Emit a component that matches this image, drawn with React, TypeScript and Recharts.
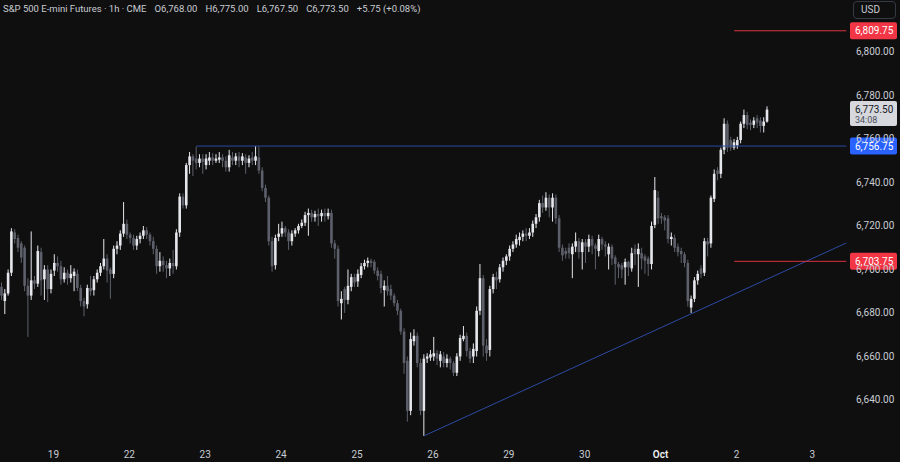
import React from 'react';
import { ComposedChart, Bar, XAxis, YAxis, ReferenceLine } from 'recharts';

// hourly OHLC, Sep 18 evening -> Oct 2
const opens = [
  6692, 6685.5, 6689, 6698.5, 6717, 6714.5, 6712, 6710, 6692.5, 6688,
  6695, 6693.5, 6708, 6695.5, 6700, 6691, 6699.5, 6703, 6701.5, 6695.5,
  6698.5, 6696, 6697, 6698, 6691.5, 6685.5, 6684, 6691.5, 6690.5, 6695.5,
  6698.5, 6701.5, 6705, 6700, 6698, 6709.5, 6711, 6716.5, 6721, 6716,
  6714.5, 6711, 6714, 6715.5, 6718, 6716, 6713, 6709.5, 6701.5, 6704,
  6702, 6700.5, 6703, 6701.5, 6717, 6733.5, 6729.5, 6748, 6752, 6751,
  6749, 6751, 6748, 6750, 6751.5, 6750, 6750.5, 6751.5, 6750, 6747,
  6751.5, 6750, 6752, 6750, 6751.5, 6749, 6751.5, 6750, 6751.5, 6745.5,
  6737.5, 6733, 6713, 6702, 6715, 6716.5, 6719, 6717, 6713, 6716.5,
  6718, 6720, 6721.5, 6725, 6726, 6724, 6725.5, 6724.5, 6726, 6724.5,
  6726, 6712, 6709.5, 6684.5, 6691, 6686, 6692, 6696.5, 6694.5, 6697.5,
  6701.5, 6703, 6704, 6703.5, 6699.5, 6698, 6690.5, 6692.5, 6691, 6688,
  6684.5, 6681, 6671.5, 6658, 6635, 6667, 6669.5, 6657, 6635, 6659,
  6659.5, 6660, 6661.5, 6658, 6660, 6657, 6659, 6657, 6652.5, 6660,
  6668, 6669.5, 6662.5, 6660, 6662.5, 6681, 6696, 6665, 6663, 6691,
  6696.5, 6695.5, 6701, 6704, 6706, 6709.5, 6711.5, 6713.5, 6715, 6716.5,
  6715.5, 6717, 6721, 6724, 6730.5, 6728.5, 6733, 6728.5, 6733, 6723.5,
  6710, 6708.5, 6710, 6707, 6710.5, 6713, 6708, 6712.5, 6710.5, 6714,
  6711, 6708.5, 6714, 6711.5, 6707, 6710.5, 6705.5, 6702.5, 6702, 6701,
  6703.5, 6700.5, 6709.5, 6707, 6707.5, 6706, 6705, 6702.5, 6720.5, 6733,
  6724.5, 6724, 6723.5, 6714, 6714.5, 6710.5, 6708.5, 6707, 6703, 6682.5,
  6686.5, 6695, 6700.5, 6698.5, 6713, 6712, 6732.5, 6745.5, 6744, 6755,
  6767, 6759.5, 6756, 6757, 6759.5, 6767, 6771, 6767.5, 6766.5, 6769.5,
  6768.5, 6766, 6768,
];

const highs = [
  6694, 6691, 6700, 6719, 6718.5, 6716, 6713, 6711, 6696, 6717.5,
  6697, 6711, 6710, 6702, 6702, 6700, 6707, 6706, 6704, 6701,
  6700, 6702, 6700.5, 6700, 6693, 6687, 6693, 6697, 6697, 6700,
  6703, 6714, 6707, 6701, 6711, 6713, 6718, 6731, 6723, 6717,
  6716, 6715.5, 6717, 6720, 6719.5, 6717, 6715, 6711, 6708, 6706,
  6704, 6705, 6709, 6718.5, 6735, 6735, 6749, 6754, 6753, 6756.5,
  6753, 6753, 6753, 6754, 6753.5, 6753, 6754, 6753, 6752, 6755,
  6754, 6753.5, 6754, 6753.5, 6753, 6752.5, 6754, 6756.75, 6756.5, 6747,
  6739, 6734, 6715, 6716, 6721, 6722, 6720, 6718.5, 6718, 6719,
  6721, 6723, 6726.5, 6728, 6727.5, 6727, 6728, 6727.5, 6728, 6728,
  6727.5, 6713.5, 6711, 6690, 6692, 6700, 6698, 6698, 6700, 6703,
  6704.5, 6705.5, 6705, 6704.5, 6701, 6699.5, 6695, 6697, 6693, 6689,
  6686, 6682, 6673, 6660, 6671, 6672.5, 6671, 6659, 6661, 6661.5,
  6663, 6669, 6663, 6662.5, 6662, 6661, 6660, 6658, 6661.5, 6670,
  6674, 6671, 6664, 6666, 6683, 6702.5, 6697.5, 6668, 6692.5, 6698,
  6699, 6702.5, 6705.5, 6707, 6711, 6713, 6716, 6717, 6718, 6719,
  6719, 6722.5, 6725.5, 6732, 6734, 6735.5, 6734.5, 6735, 6734.5, 6725,
  6711.5, 6710, 6712, 6712, 6717, 6714.5, 6714, 6714, 6716, 6715.5,
  6712, 6716, 6715, 6713, 6712, 6711.5, 6706.5, 6703.5, 6703, 6705,
  6704, 6710, 6711.5, 6712, 6710, 6707, 6706, 6722, 6742.5, 6736,
  6726, 6725, 6725, 6717, 6716, 6712, 6710, 6708, 6704.5, 6688,
  6696.5, 6699.5, 6702, 6714.5, 6714.5, 6734, 6746, 6747, 6756, 6769.5,
  6768.5, 6761, 6760, 6761, 6768, 6773.5, 6772.5, 6769, 6770, 6771,
  6770, 6770, 6775,
];

const lows = [
  6686, 6679.5, 6688, 6697, 6712, 6708, 6703, 6690, 6669, 6686,
  6691, 6692, 6688, 6686, 6685, 6689, 6697, 6699, 6693, 6694,
  6693, 6694, 6690, 6690, 6683, 6678.5, 6682, 6688, 6688, 6694,
  6697, 6700, 6694, 6686.5, 6696, 6707, 6709, 6715, 6714, 6712,
  6709, 6709, 6712, 6714, 6714, 6711, 6707, 6698, 6699, 6699,
  6696, 6697, 6698, 6700, 6715, 6728, 6728, 6744, 6743, 6746,
  6747, 6744, 6746, 6748, 6748, 6749, 6749, 6747, 6745, 6745,
  6748, 6748, 6747, 6748, 6744, 6747, 6748, 6748, 6744, 6736,
  6731, 6711, 6699, 6700, 6713, 6715, 6715, 6709, 6711, 6715,
  6716.5, 6719, 6720, 6715.5, 6722, 6722, 6720, 6722, 6722, 6723,
  6710, 6705, 6683, 6677, 6680, 6684, 6690, 6692, 6692, 6696,
  6700, 6701, 6701, 6698, 6695, 6689, 6683, 6688, 6686, 6683,
  6679, 6670, 6652, 6630, 6633, 6665, 6655, 6633, 6623.5, 6657,
  6658, 6658, 6656, 6655, 6655, 6655, 6654, 6651, 6651, 6658,
  6667, 6660, 6657, 6657, 6660, 6679, 6660, 6658, 6660, 6689,
  6691, 6694, 6699, 6702, 6704, 6708, 6710, 6711, 6713, 6713,
  6714, 6715, 6719, 6722, 6726, 6727, 6724, 6722, 6721, 6708,
  6704, 6705, 6705, 6696, 6708, 6705, 6700, 6703, 6708, 6707,
  6700, 6706, 6709, 6706, 6700, 6702, 6693, 6696, 6696, 6693,
  6697, 6699, 6702, 6692, 6700, 6698, 6697, 6700, 6719, 6721,
  6721, 6718, 6712, 6711, 6708, 6706, 6703, 6701, 6683, 6680,
  6685, 6693, 6696, 6697, 6706, 6710, 6731, 6741, 6742, 6753,
  6754, 6754.5, 6755, 6755.5, 6758, 6765, 6764.5, 6764, 6765, 6765,
  6763, 6763, 6767.5,
];

const closes = [
  6688, 6689, 6698.5, 6717.5, 6714, 6710, 6705.5, 6692.5, 6688, 6695,
  6693.5, 6708.5, 6695, 6700, 6691, 6698, 6703, 6701.5, 6695.5, 6698.5,
  6696, 6698, 6699, 6691.5, 6685.5, 6683, 6691.5, 6690, 6695.5, 6698.5,
  6701.5, 6705, 6699.5, 6698, 6709.5, 6711, 6716.5, 6721, 6716, 6714.5,
  6711, 6714, 6715.5, 6718, 6716, 6713, 6709.5, 6701.5, 6704, 6702,
  6700.5, 6703, 6701.5, 6717, 6733.5, 6729.5, 6748, 6752, 6750, 6749,
  6751, 6749.5, 6751, 6751.5, 6750, 6751, 6751.5, 6750, 6747, 6752.5,
  6750, 6752, 6750, 6752, 6749, 6751, 6750, 6752, 6745.5, 6737.5,
  6733, 6713, 6701.5, 6714.5, 6716.5, 6719, 6717, 6713, 6716.5, 6718,
  6720, 6721.5, 6725, 6726, 6724, 6725.5, 6724.5, 6726, 6724.5, 6726,
  6712, 6709.5, 6685.5, 6686.5, 6686, 6692.5, 6696.5, 6694, 6698, 6701.5,
  6703, 6704, 6703, 6699.5, 6697, 6691.5, 6692.5, 6690, 6688, 6684.5,
  6681, 6671.5, 6657, 6635, 6668, 6669.5, 6657, 6635, 6659, 6660,
  6661, 6661.5, 6659, 6661, 6657, 6659, 6657, 6652.5, 6660, 6668.5,
  6669.5, 6662.5, 6659, 6663.5, 6681, 6696, 6665, 6661.5, 6691, 6696.5,
  6695, 6701, 6704, 6706, 6709.5, 6711.5, 6714, 6715, 6716.5, 6715.5,
  6717, 6721, 6724, 6730.5, 6728.5, 6733, 6728.5, 6733, 6723.5, 6710,
  6706.5, 6707, 6707.5, 6710.5, 6713, 6708, 6712.5, 6710.5, 6714, 6711,
  6709.5, 6714, 6711.5, 6710.5, 6710.5, 6705, 6702.5, 6701, 6700, 6703.5,
  6701, 6707.5, 6707, 6709.5, 6705, 6704, 6702.5, 6720, 6736.5, 6723.5,
  6723.5, 6722.5, 6714, 6715, 6710, 6708, 6707, 6703, 6685.5, 6686.5,
  6695, 6698, 6698, 6713, 6711.5, 6733, 6744, 6744, 6755, 6767,
  6756, 6756, 6758.5, 6759.5, 6767, 6771, 6766.5, 6766.5, 6768.5, 6767.5,
  6766, 6768, 6773.5,
];

const dayLabels = ['19', '22', '23', '24', '25', '26', '29', '30', 'Oct', '2', '3'];
const dayStartBars = [16, 39, 62, 85, 108, 131, 154, 177, 200, 223, 246];
const priceTicks = [6640, 6660, 6680, 6700, 6720, 6740, 6760, 6780, 6800];

// legend line: symbol title, then last bar values
const legendTitle = 'S&P 500 E-mini Futures · 1h · CME';
const legendItems = ['O6,768.00', 'H6,775.00', 'L6,767.50', 'C6,773.50', '+5.75 (+0.08%)'];

// drawn levels
const resistance = 6756.75;
const upperTarget = 6809.75;
const lowerTarget = 6703.75;
const lastPrice = 6773.5;
const trendStart = { bar: 128, price: 6623.5 };
const trendEnd = { bar: 256, price: 6712.2 };

const SLOTS = 257; // includes empty space to the right of the last bar
const W = 900;
const H = 462;
const AXIS_W = 52;
const BG = '#0f0f0f';
const UP = '#e6e7ec';
const DOWN = '#5d606b';
const TEXT = '#c9ccd3';
const FONT = 'Roboto, "Noto Sans", sans-serif';
const FS = 10;

const data = Array.from({ length: SLOTS }, (_, i) =>
  i < closes.length
    ? { i, open: opens[i], high: highs[i], low: lows[i], close: closes[i] }
    : { i }
);

const fmt = (v: number) =>
  v.toLocaleString('en-US', { minimumFractionDigits: 2, maximumFractionDigits: 2 });

const Candle = (props: any) => {
  const { x, y, width, height, payload } = props;
  if (payload == null || payload.high == null) return null;
  const top = Math.min(y, y + height);
  const h = Math.abs(height);
  const ppu = h / Math.max(payload.high - payload.low, 0.0001);
  const up = payload.close >= payload.open;
  const color = up ? UP : DOWN;
  const cx = x + width / 2;
  const bodyTop = top + (payload.high - Math.max(payload.open, payload.close)) * ppu;
  const bodyH = Math.max(1, Math.abs(payload.close - payload.open) * ppu);
  return (
    <g>
      <line x1={cx} x2={cx} y1={top} y2={top + h} stroke={color} strokeWidth={1} />
      <rect x={cx - 1.3} y={bodyTop} width={2.6} height={bodyH} fill={color} />
    </g>
  );
};

const DayTick = (props: any) => {
  const { x, y, payload } = props;
  const idx = dayStartBars.indexOf(payload.value);
  if (idx < 0) return null;
  const label = dayLabels[idx];
  return (
    <text
      x={x - 1}
      y={y + 10}
      textAnchor="middle"
      fill={label === 'Oct' ? '#f0f1f4' : TEXT}
      fontWeight={label === 'Oct' ? 600 : 400}
      fontSize={FS}
      fontFamily={FONT}
    >
      {label}
    </text>
  );
};

const PriceTick = (props: any) => {
  const { x, y, payload } = props;
  return (
    <text x={x} y={y + 3.5} textAnchor="start" fill={TEXT} fontSize={FS} fontFamily={FONT}>
      {fmt(payload.value)}
    </text>
  );
};

const PriceTag = (props: any) => {
  const { viewBox, value, color, textColor, sub } = props;
  if (!viewBox) return null;
  const left = W - AXIS_W + 2;
  const h = sub ? 25 : 17;
  const top = viewBox.y - (sub ? 8.5 : h / 2);
  return (
    <g>
      <rect x={left} y={top} width={47} height={h} rx={2} fill={color} />
      <text x={left + 5} y={top + 12} fill={textColor} fontSize={FS} fontFamily={FONT}>
        {fmt(value)}
      </text>
      {sub && (
        <text x={left + 5} y={top + 21.5} fill="#4a4e5a" fontSize={9} fontFamily={FONT}>
          {sub}
        </text>
      )}
    </g>
  );
};

export default function App() {
  return (
    <div
      style={{
        position: 'absolute',
        left: 0,
        top: 0,
        width: W,
        height: H,
        background: BG,
        overflow: 'hidden',
      }}
    >
      <ComposedChart
        width={W}
        height={H}
        data={data}
        margin={{ top: 0, right: 0, bottom: 0, left: 0 }}
        barCategoryGap={0}
      >
        <XAxis
          dataKey="i"
          type="category"
          ticks={dayStartBars}
          interval={0}
          tick={<DayTick />}
          axisLine={false}
          tickLine={false}
          height={22}
        />
        <YAxis
          orientation="right"
          type="number"
          domain={[6621.6, 6823.9]}
          ticks={priceTicks}
          allowDataOverflow
          tick={<PriceTick />}
          axisLine={false}
          tickLine={false}
          width={AXIS_W}
        />
        <Bar
          dataKey={(d: any) => (d.high == null ? null : [d.low, d.high])}
          shape={<Candle />}
          isAnimationActive={false}
        />
        <ReferenceLine
          segment={[
            { x: trendStart.bar, y: trendStart.price },
            { x: trendEnd.bar, y: trendEnd.price },
          ]}
          stroke="#2c4aa3"
          strokeWidth={1}
        />
        <ReferenceLine
          segment={[
            { x: 59, y: resistance },
            { x: SLOTS - 1, y: resistance },
          ]}
          stroke="#2c4aa3"
          strokeWidth={1}
          label={<PriceTag value={resistance} color="#2962ff" textColor="#ffffff" />}
        />
        <ReferenceLine
          segment={[
            { x: 222, y: upperTarget },
            { x: SLOTS - 1, y: upperTarget },
          ]}
          stroke="#d9323f"
          strokeWidth={1}
          label={<PriceTag value={upperTarget} color="#f23645" textColor="#ffffff" />}
        />
        <ReferenceLine
          segment={[
            { x: 222, y: lowerTarget },
            { x: SLOTS - 1, y: lowerTarget },
          ]}
          stroke="#d9323f"
          strokeWidth={1}
          label={<PriceTag value={lowerTarget} color="#f23645" textColor="#ffffff" />}
        />
        <ReferenceLine
          y={lastPrice}
          stroke="none"
          label={<PriceTag value={lastPrice} color="#d6d8de" textColor="#131722" sub="34:08" />}
        />
      </ComposedChart>
      <div
        style={{
          position: 'absolute',
          left: 3,
          top: 2,
          color: TEXT,
          fontFamily: FONT,
          fontSize: 9.5,
          whiteSpace: 'nowrap',
          lineHeight: '14px',
        }}
      >
        <span>{legendTitle}</span>
        {legendItems.map((item) => (
          <span key={item} style={{ marginLeft: 8 }}>
            {item}
          </span>
        ))}
      </div>
      <div
        style={{
          position: 'absolute',
          left: 853,
          top: 1,
          width: 43,
          height: 18,
          boxSizing: 'border-box',
          border: '1px solid #363a45',
          borderRadius: 4,
          color: TEXT,
          fontFamily: FONT,
          fontSize: FS,
          lineHeight: '16px',
          paddingLeft: 7,
        }}
      >
        USD
      </div>
    </div>
  );
}
